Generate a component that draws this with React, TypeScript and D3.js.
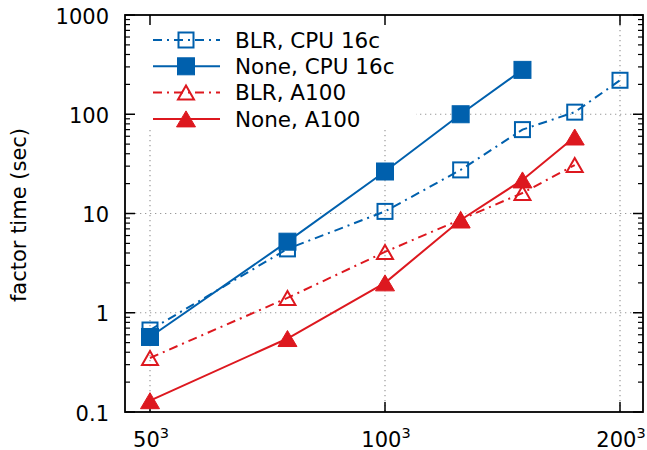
import React from 'react';
import * as d3 from 'd3';

const xN = [50, 75, 100, 125, 150, 175, 200];
const blrCpu = [0.67, 4.4, 10.5, 27.5, 70, 105, 220];
const noneCpu = [0.57, 5.2, 26.5, 100, 280];
const blrA100 = [0.35, 1.41, 4.1, 8.7, 16.1, 30.8];
const noneA100 = [0.13, 0.55, 2.0, 8.6, 21.8, 59];
const seriesNames = ['BLR, CPU 16c', 'None, CPU 16c', 'BLR, A100', 'None, A100'];
const xTicks = [50, 100, 200];
const xTickBase = ['50', '100', '200'];
const yTicks = [0.1, 1, 10, 100, 1000];
const yTickLabels = ['0.1', '1', '10', '100', '1000'];
const yLabel = 'factor time (sec)';

const BLUE = '#0060ad';
const RED = '#dd181f';
const FONT = 'DejaVu Sans, sans-serif';

const W = 647, H = 450;
const L = 125, R = 643, T = 15, B = 412;

const x = d3.scaleLog().domain([50, 200]).range([150, 620]);
const y = d3.scaleLog().domain([0.1, 1000]).range([B, T]);

type Series = { name: string; values: number[]; color: string; dash: string | null; marker: 'sq' | 'tri'; filled: boolean };
const series: Series[] = [
  { name: seriesNames[0], values: blrCpu, color: BLUE, dash: '9,5,2,5', marker: 'sq', filled: false },
  { name: seriesNames[1], values: noneCpu, color: BLUE, dash: null, marker: 'sq', filled: true },
  { name: seriesNames[2], values: blrA100, color: RED, dash: '9,5,2,5', marker: 'tri', filled: false },
  { name: seriesNames[3], values: noneA100, color: RED, dash: null, marker: 'tri', filled: true },
];

function Marker({ cx, cy, s }: { cx: number; cy: number; s: Series }) {
  if (s.marker === 'sq') {
    const a = s.filled ? 17 : 15;
    return s.filled ? (
      <rect x={cx - a / 2} y={cy - a / 2} width={a} height={a} fill={s.color} stroke={s.color} strokeWidth={1} />
    ) : (
      <rect x={cx - a / 2} y={cy - a / 2} width={a} height={a} fill="none" stroke={s.color} strokeWidth={2} />
    );
  }
  const w = s.filled ? 19 : 16;
  const h = s.filled ? 16 : 14;
  const d = `M${cx},${cy - h / 2}L${cx + w / 2},${cy + h / 2}L${cx - w / 2},${cy + h / 2}Z`;
  return s.filled ? (
    <path d={d} fill={s.color} stroke={s.color} strokeWidth={1} strokeLinejoin="miter" />
  ) : (
    <path d={d} fill="none" stroke={s.color} strokeWidth={2} strokeLinejoin="miter" />
  );
}

export default function App() {
  const line = d3.line<[number, number]>().x((d) => d[0]).y((d) => d[1]);
  const minor: number[] = [];
  for (let e = -1; e < 3; e++) for (let m = 2; m <= 9; m++) minor.push(m * Math.pow(10, e));
  const legendY = (i: number) => 40 + 26.3 * i;

  return (
    <svg width={W} height={H} style={{ position: 'absolute', left: 0, top: 0, background: '#fff' }} fontFamily={FONT}>
      <rect x={0} y={0} width={W} height={H} fill="#fff" />
      {/* grid */}
      {xTicks.map((t) => (
        <line key={'gx' + t} x1={x(t)} x2={x(t)} y1={T} y2={B} stroke="#999" strokeWidth={1.2} strokeDasharray="1.3,3.7" />
      ))}
      {yTicks.slice(1, -1).map((t) => (
        <line key={'gy' + t} x1={L} x2={R} y1={y(t)} y2={y(t)} stroke="#999" strokeWidth={1.2} strokeDasharray="1.3,3.7" />
      ))}
      {/* legend background */}
      <rect x={128} y={17} width={288} height={112} fill="#fff" />
      {/* ticks */}
      {yTicks.map((t) => (
        <g key={'yt' + t}>
          <line x1={L} x2={L + 10} y1={y(t)} y2={y(t)} stroke="#000" strokeWidth={1.5} />
          <line x1={R} x2={R - 10} y1={y(t)} y2={y(t)} stroke="#000" strokeWidth={1.5} />
        </g>
      ))}
      {minor.map((t) => (
        <g key={'ym' + t}>
          <line x1={L} x2={L + 5} y1={y(t)} y2={y(t)} stroke="#000" strokeWidth={1.2} />
          <line x1={R} x2={R - 5} y1={y(t)} y2={y(t)} stroke="#000" strokeWidth={1.2} />
        </g>
      ))}
      {xTicks.map((t) => (
        <g key={'xt' + t}>
          <line x1={x(t)} x2={x(t)} y1={B} y2={B - 10} stroke="#000" strokeWidth={1.5} />
          <line x1={x(t)} x2={x(t)} y1={T} y2={T + 10} stroke="#000" strokeWidth={1.5} />
        </g>
      ))}
      {/* data */}
      {series.map((s, si) => {
        const pts: [number, number][] = s.values.map((v, i) => [x(xN[i]), y(v)]);
        return (
          <g key={'s' + si}>
            <path d={line(pts) || ''} fill="none" stroke={s.color} strokeWidth={2} strokeDasharray={s.dash || undefined} />
            {pts.map((p, i) => (
              <Marker key={i} cx={p[0]} cy={p[1]} s={s} />
            ))}
          </g>
        );
      })}
      {/* frame */}
      <rect x={L} y={T} width={R - L} height={B - T} fill="none" stroke="#000" strokeWidth={1.8} />
      {/* tick labels */}
      {yTicks.map((t, i) => (
        <text key={'yl' + t} x={109} y={y(t) + 1} dy="0.36em" textAnchor="end" fontSize={21} fill="#000">
          {yTickLabels[i]}
        </text>
      ))}
      {xTicks.map((t, i) => (
        <text key={'xl' + t} x={x(t) + 1} y={446.5} textAnchor="middle" fontSize={21} fill="#000">
          {xTickBase[i]}
          <tspan dy={-8.5} fontSize={14.5}>3</tspan>
        </text>
      ))}
      <text transform={`translate(26,215) rotate(-90)`} textAnchor="middle" fontSize={21} fill="#000">
        {yLabel}
      </text>
      {/* legend */}
      {series.map((s, i) => {
        const ly = legendY(i);
        return (
          <g key={'lg' + i}>
            <line x1={153} x2={220} y1={ly} y2={ly} stroke={s.color} strokeWidth={2} strokeDasharray={s.dash || undefined} />
            <Marker cx={186} cy={ly} s={s} />
            <text x={235} y={ly} dy="0.36em" fontSize={21.5} fill="#000">{s.name}</text>
          </g>
        );
      })}
    </svg>
  );
}
